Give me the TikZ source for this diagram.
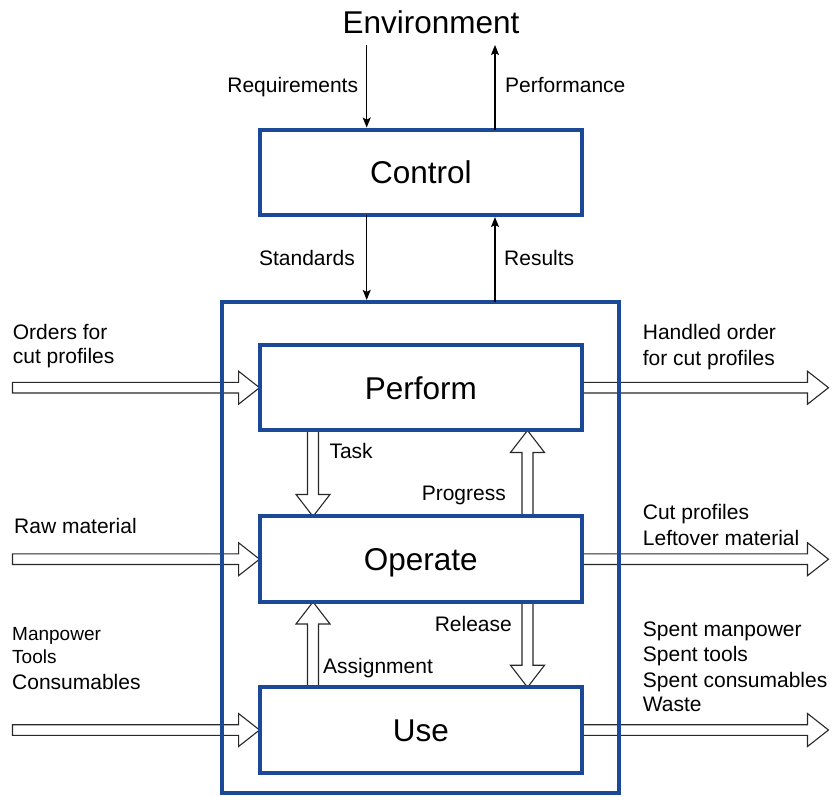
\documentclass[tikz,border=0pt]{standalone}
\usepackage{fontspec}
\setmainfont{Liberation Sans}
\usetikzlibrary{arrows.meta,calc,backgrounds}
\definecolor{frameblue}{RGB}{27,73,152}
\definecolor{outline}{RGB}{40,40,40}

% block arrows: #1 = tail point, #2 = tip point
\newcommand{\rightblock}[2]{%
  \draw[blockarrow] ($(#1)+(0,-5.3)$) -- ($(#2)+(-21,-5.3)$) -- ($(#2)+(-21,-16.5)$) -- (#2)
    -- ($(#2)+(-21,16.5)$) -- ($(#2)+(-21,5.3)$) -- ($(#1)+(0,5.3)$) -- cycle;}
\newcommand{\downblock}[2]{%
  \draw[blockarrow] ($(#1)+(-5.5,0)$) -- ($(#2)+(-5.5,-22)$) -- ($(#2)+(-17,-22)$) -- (#2)
    -- ($(#2)+(17,-22)$) -- ($(#2)+(5.5,-22)$) -- ($(#1)+(5.5,0)$) -- cycle;}
\newcommand{\upblock}[2]{%
  \draw[blockarrow] ($(#1)+(-5.5,0)$) -- ($(#2)+(-5.5,22)$) -- ($(#2)+(-17,22)$) -- (#2)
    -- ($(#2)+(17,22)$) -- ($(#2)+(5.5,22)$) -- ($(#1)+(5.5,0)$) -- cycle;}

\tikzset{
  box/.style={draw=frameblue, line width=4pt, outer sep=0pt, inner sep=0pt,
    minimum width=322.5pt, minimum height=85.5pt, text height=22.6pt, text depth=0pt,
    font=\fontsize{31.5}{36}\selectfont},
  frame/.style={draw=frameblue, line width=4pt, outer sep=0pt, inner sep=0pt},
  blockarrow/.style={draw=outline, fill=white, line width=1.1pt, line join=miter},
  signal/.style={draw=black, line width=1.1pt, -{Stealth[length=10pt,width=8pt,inset=2pt]}},
  lbl/.style={inner sep=0pt, font=\fontsize{21}{25}\selectfont},
  lblsmall/.style={inner sep=0pt, font=\fontsize{19}{23}\selectfont},
}

\begin{document}
\begin{tikzpicture}[x=1pt, y=-1pt]
  \useasboundingbox (0,0) rectangle (833,796);

  % environment and the control level
  \node[inner sep=0pt, anchor=base, font=\fontsize{31.5}{36}\selectfont] (env) at (431,33.3) {Environment};
  \node[box] (ctrl) at (420.8,172.3) {Control};

  % the operational system and its three functions
  \node[frame, minimum width=397.5pt, minimum height=491pt] (sys) at (420.3,547.4) {};
  \node[box] (perform) at (420.8,387.7) {Perform};
  \node[box] (operate) at (420.8,559.2) {Operate};
  \node[box] (use) at (420.8,730) {Use};

  % reference lines for the connectors
  \coordinate (downx) at (366.7,0);
  \coordinate (upx) at (495,0);
  \coordinate (envlow) at (0,45);
  \coordinate (inx) at (12.5,0);
  \coordinate (outx) at (828.5,0);
  \coordinate (leftcol) at (313,0);
  \coordinate (rightcol) at (527.5,0);

  % thin signal arrows between environment, control and system
  \draw[signal, shorten >=2pt] (envlow -| downx) -- (ctrl.north -| downx);
  \draw[signal] (ctrl.north -| upx) -- (envlow -| upx);
  \draw[signal, shorten >=2pt] (ctrl.south -| downx) -- (sys.north -| downx);
  \draw[signal, shorten >=2pt] (sys.north -| upx) -- (ctrl.south -| upx);

  % block arrows for flows, kept beneath the frames
  \begin{scope}[on background layer]
    \rightblock{perform.west -| inx}{perform.west}
    \rightblock{operate.west -| inx}{operate.west}
    \rightblock{use.west -| inx}{use.west}
    \rightblock{perform.east}{perform.east -| outx}
    \rightblock{operate.east}{operate.east -| outx}
    \rightblock{use.east}{use.east -| outx}
    \downblock{perform.south -| leftcol}{operate.north -| leftcol}
    \upblock{operate.north -| rightcol}{perform.south -| rightcol}
    \upblock{use.north -| leftcol}{operate.south -| leftcol}
    \downblock{operate.south -| rightcol}{use.north -| rightcol}
  \end{scope}

  % labels of the signal arrows
  \node[lbl, anchor=base east] (lreq) at (358.3,92.5) {Requirements};
  \node[lbl, anchor=base west] (lperf) at (505,92.5) {Performance};
  \node[lbl, anchor=base east] (lstd) at (355,265.7) {Standards};
  \node[lbl, anchor=base west] (lres) at (504,265.7) {Results};

  % labels of the internal flows
  \node[lbl, anchor=base west] (ltask) at (329.3,458.3) {Task};
  \node[lbl, anchor=base east] (lprog) at (506,500.5) {Progress};
  \node[lbl, anchor=base east] (lrel) at (512,631) {Release};
  \node[lbl, anchor=base west] (lasg) at (323,673) {Assignment};

  % input labels
  \node[lbl, anchor=base west] (in1a) at (12.7,339.3) {Orders for};
  \node[lbl, anchor=base west] (in1b) at (12.7,363.8) {cut profiles};
  \node[lbl, anchor=base west] (in2) at (14,533) {Raw material};
  \node[lblsmall, anchor=base west] (in3a) at (12,640.7) {Manpower};
  \node[lblsmall, anchor=base west] (in3b) at (12,663.3) {Tools};
  \node[lbl, anchor=base west] (in3c) at (12,689) {Consumables};

  % output labels
  \node[lbl, anchor=base west] (out1a) at (642.7,339.5) {Handled order};
  \node[lbl, anchor=base west] (out1b) at (642.7,365) {for cut profiles};
  \node[lbl, anchor=base west] (out2a) at (642.7,519) {Cut profiles};
  \node[lbl, anchor=base west] (out2b) at (642.7,545) {Leftover material};
  \node[lbl, anchor=base west] (out3a) at (642.7,636) {Spent manpower};
  \node[lbl, anchor=base west] (out3b) at (642.7,661.7) {Spent tools};
  \node[lbl, anchor=base west] (out3c) at (642.7,687.3) {Spent consumables};
  \node[lbl, anchor=base west] (out3d) at (642.7,711.7) {Waste};
\end{tikzpicture}
\end{document}
